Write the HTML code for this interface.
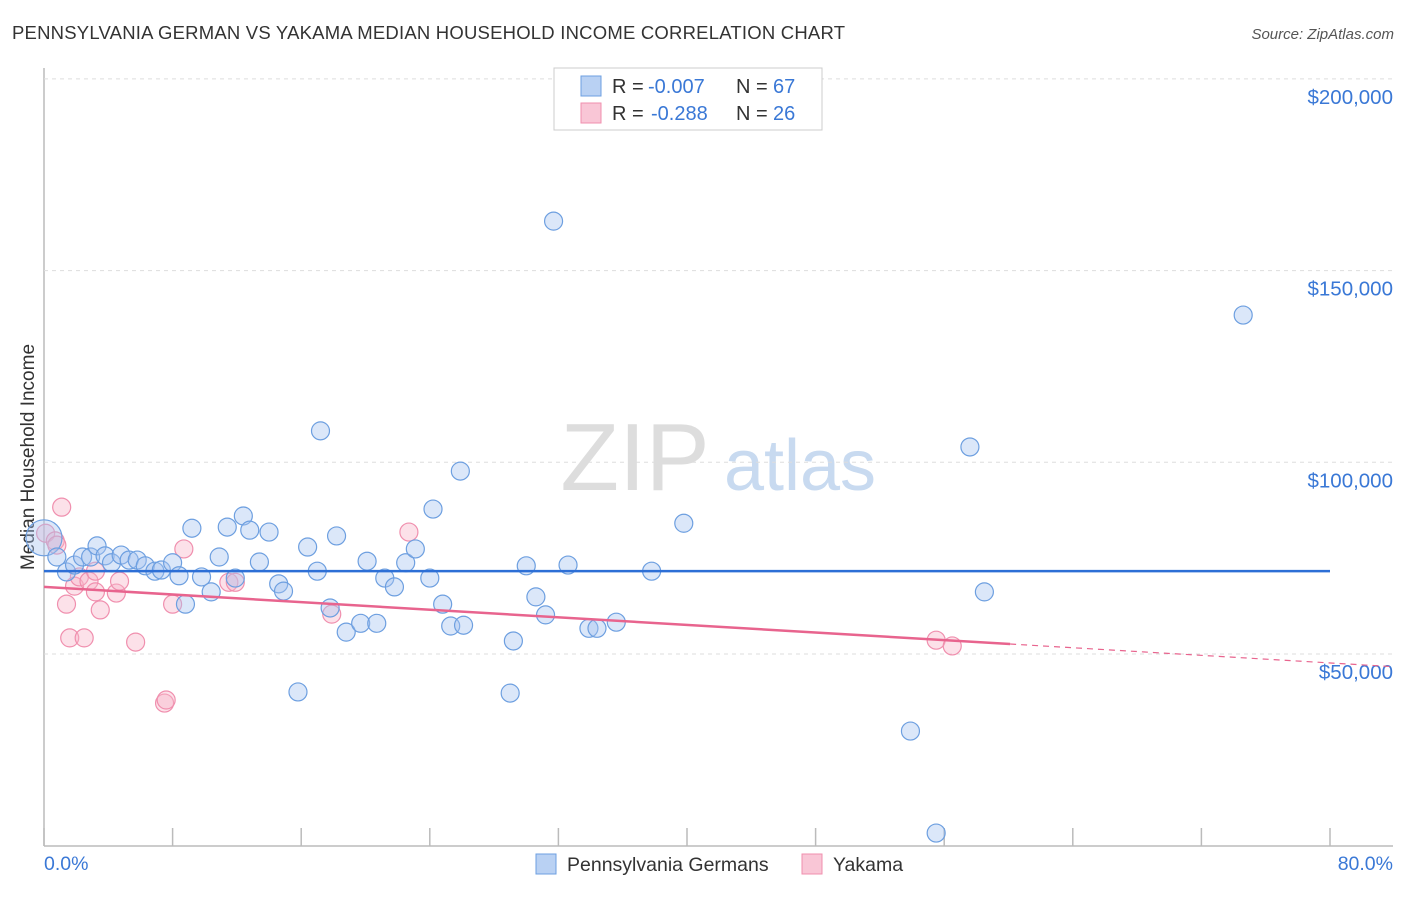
<!DOCTYPE html>
<html><head><meta charset="utf-8"><style>
body{margin:0;background:#fff;font-family:"Liberation Sans",sans-serif;}
svg text{font-family:"Liberation Sans",sans-serif;}
</style></head><body>
<svg id="c" width="1406" height="892" xmlns="http://www.w3.org/2000/svg">
<text x="12" y="39" font-size="18.5" fill="#333" textLength="833">PENNSYLVANIA GERMAN VS YAKAMA MEDIAN HOUSEHOLD INCOME CORRELATION CHART</text>
<text x="1394" y="39" font-size="15" fill="#555" font-style="italic" text-anchor="end">Source: ZipAtlas.com</text>
<text x="34" y="457" font-size="19" fill="#333" text-anchor="middle" transform="rotate(-90 34 457)">Median Household Income</text>
<g><text x="635" y="490" font-size="96" fill="#ddd" font-family="Liberation Serif" text-anchor="middle">ZIP</text><text x="800" y="490" font-size="72" fill="#c8daf0" text-anchor="middle">atlas</text></g>
<g id="grid"></g><g id="marks"></g>
<g>
<rect x="554" y="68" width="268" height="62" fill="#fff" stroke="#ccc"/>
<rect x="581" y="76" width="20" height="20" fill="#b9d1f3" stroke="#6d9fe0"/>
<rect x="581" y="103" width="20" height="20" fill="#f9c6d6" stroke="#f08fae"/>
<text x="612" y="93" font-size="20" fill="#333">R =</text><text x="648" y="93" font-size="20" fill="#3a78d6">-0.007</text>
<text x="736" y="93" font-size="20" fill="#333">N =</text><text x="773" y="93" font-size="20" fill="#3a78d6">67</text>
<text x="612" y="120" font-size="20" fill="#333">R =</text><text x="651" y="120" font-size="20" fill="#3a78d6">-0.288</text>
<text x="736" y="120" font-size="20" fill="#333">N =</text><text x="773" y="120" font-size="20" fill="#3a78d6">26</text>
</g>
<g>
<rect x="536" y="854" width="20" height="20" fill="#b9d1f3" stroke="#6d9fe0"/>
<text x="567" y="871" font-size="19.5" fill="#333">Pennsylvania Germans</text>
<rect x="802" y="854" width="20" height="20" fill="#f9c6d6" stroke="#f08fae"/>
<text x="833" y="871" font-size="19.5" fill="#333">Yakama</text>
</g>
</svg>
<script>
const xTicks=[0,8,16,24,32,40,48,56,64,72,80];
const yTicks=[50000,100000,150000,200000];
const yTickLabels=["$50,000","$100,000","$150,000","$200,000"];
const blueX=[0,0.8,1.4,1.9,2.4,2.9,3.3,3.8,4.2,4.8,5.3,5.8,6.3,6.9,7.3,8.0,8.4,8.8,9.2,9.8,10.4,10.9,11.4,11.9,12.4,12.8,13.4,14.0,14.6,14.9,15.8,16.4,17.0,17.2,17.8,18.2,18.8,19.7,20.1,20.7,21.2,21.8,22.5,23.1,24.0,24.2,24.8,25.3,25.9,26.1,29.2,29.0,30.0,30.6,31.2,31.7,32.6,33.9,34.4,35.6,37.8,39.8,53.9,55.5,57.6,58.5,74.6];
const blueY=[80.3,75.3,71.4,73.2,75.3,75.3,78.2,75.6,73.8,75.8,74.5,74.5,73.0,71.6,71.9,73.8,70.4,63.0,82.8,70.1,66.2,75.3,83.1,69.8,86.0,82.3,74.0,81.8,68.3,66.4,40.1,77.9,71.6,108.2,62.0,80.8,55.7,58.0,74.2,58.0,69.8,67.5,73.8,77.4,69.8,87.8,63.0,57.3,97.7,57.5,53.4,39.8,73.0,64.9,60.2,162.9,73.2,56.7,56.7,58.3,71.6,84.1,29.9,3.3,104.0,66.2,138.4];
const pinkX=[0.1,0.7,0.8,1.1,1.4,1.6,1.9,2.2,2.5,2.8,3.2,3.2,3.5,4.5,4.7,5.7,7.5,7.6,8.0,8.7,11.5,11.9,17.9,22.7,55.5,56.5];
const pinkY=[81.5,79.5,78.4,88.3,63.0,54.2,67.7,70.1,54.2,69.0,71.6,66.2,61.5,65.9,69.0,53.1,37.2,38.0,63.0,77.4,68.7,68.7,60.4,81.8,53.6,52.1];
const blueTrend=[71.6,71.6];
const pinkTrend=[67.5,52.6];
const X=p=>44+p*16.075, Y=k=>845.7-k*3.834;
const NS="http://www.w3.org/2000/svg";
const grid=document.getElementById('grid'), marks=document.getElementById('marks');
function mk(tag,a,parent){const e=document.createElementNS(NS,tag);for(const k in a)e.setAttribute(k,a[k]);parent.appendChild(e);return e;}
let ax=mk('line',{x1:44,y1:68,x2:44,y2:846,stroke:'#bbb','stroke-width':1.5},grid);


let bx=mk('line',{x1:44,y1:846,x2:1393,y2:846,stroke:'#bbb','stroke-width':1.5},grid);


xTicks.forEach(t=>{const l=mk('line',{x1:X(t),y1:828,x2:X(t),y2:846,stroke:'#bbb','stroke-width':1.5},grid);

});
yTicks.forEach((t,i)=>{const l=mk('line',{x1:44,y1:Y(t/1000),x2:1393,y2:Y(t/1000),stroke:'#ddd','stroke-dasharray':'4,4'},grid);


const tx=mk('text',{x:1393,y:Y(t/1000)+25,'font-size':20.5,fill:'#3a78d6','text-anchor':'end'},grid);tx.textContent=yTickLabels[i];

});
const x0=mk('text',{x:44,y:870,'font-size':19.5,fill:'#3a78d6'},grid);x0.textContent=xTicks[0].toFixed(1)+'%';


const x1=mk('text',{x:1393,y:870,'font-size':19.5,fill:'#3a78d6','text-anchor':'end'},grid);x1.textContent=xTicks[xTicks.length-1].toFixed(1)+'%';


pinkX.forEach((p,i)=>{const c=mk('circle',{cx:X(p),cy:Y(pinkY[i]),r:9,fill:'rgba(248,180,200,0.4)',stroke:'#f08fae','stroke-width':1.2},marks);

});
blueX.forEach((p,i)=>{const c=mk('circle',{cx:X(p),cy:Y(blueY[i]),r:i===0?18:9,fill:'rgba(164,196,240,0.4)',stroke:'#6d9fe0','stroke-width':1.2},marks);

});
const bt=mk('line',{x1:X(0),y1:Y(blueTrend[0]),x2:X(80),y2:Y(blueTrend[1]),stroke:'#2d6fd6','stroke-width':2.5},marks);


const slope=(pinkTrend[1]-pinkTrend[0])/60.1;
const pt=mk('line',{x1:X(0),y1:Y(pinkTrend[0]),x2:X(60.1),y2:Y(pinkTrend[1]),stroke:'#e8648e','stroke-width':2.5},marks);


const pd=mk('line',{x1:X(60.1),y1:Y(pinkTrend[1]),x2:X(84),y2:Y(pinkTrend[0]+slope*84),stroke:'#e8648e','stroke-width':1.2,'stroke-dasharray':'6,5'},marks);


</script>
</body></html>
